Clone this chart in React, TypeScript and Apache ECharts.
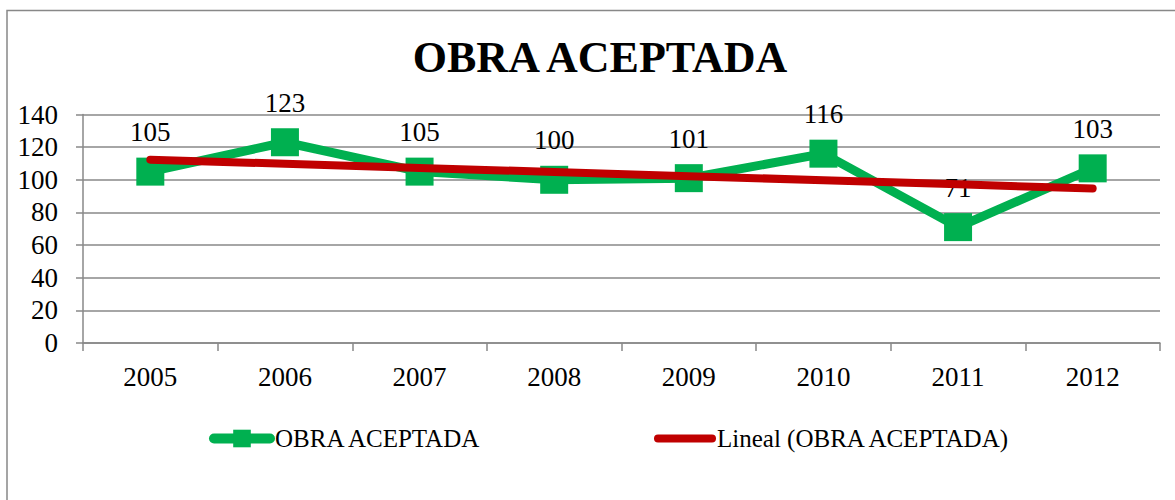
import React, { useEffect, useRef } from "react";
import * as echarts from "echarts";

const categories = ["2005", "2006", "2007", "2008", "2009", "2010", "2011", "2012"];
const obraValues = [105, 123, 105, 100, 101, 116, 71, 107];
const obraLabels = ["105", "123", "105", "100", "101", "116", "71", "103"];
const yTicks = [0, 20, 40, 60, 80, 100, 120, 140];

const SERIES_NAME = "OBRA ACEPTADA";
const TREND_NAME = "Lineal (OBRA ACEPTADA)";
const FONT = "'Liberation Serif', 'DejaVu Serif', serif";

function linearTrend(values: number[]): number[] {
  const n = values.length;
  const xs = values.map((_, i) => i + 1);
  const mx = xs.reduce((a, b) => a + b, 0) / n;
  const my = values.reduce((a, b) => a + b, 0) / n;
  let sxy = 0;
  let sxx = 0;
  for (let i = 0; i < n; i++) {
    sxy += (xs[i] - mx) * (values[i] - my);
    sxx += (xs[i] - mx) * (xs[i] - mx);
  }
  const slope = sxy / sxx;
  return xs.map((x) => my + slope * (x - mx));
}

export default function App() {
  const ref = useRef<HTMLDivElement>(null);
  useEffect(() => {
    if (!ref.current) return;
    const chart = echarts.init(ref.current, null, { renderer: "svg" });
    const trend = linearTrend(obraValues);
    chart.setOption({
      animation: false,
      backgroundColor: "#ffffff",
      title: {
        text: "OBRA ACEPTADA",
        left: 595,
        textAlign: "center",
        top: 30,
        textStyle: { fontFamily: FONT, fontWeight: "bold", fontSize: 44, color: "#000" },
      },
      graphic: [
        {
          type: "rect",
          shape: { x: 7, y: 10.5, width: 1176, height: 600 },
          style: { fill: "none", stroke: "#888", lineWidth: 1.5 },
          silent: true,
          z: -1,
        },
      ],
      grid: { left: 83, right: 15, top: 114.5, bottom: 157, containLabel: false },
      legend: [
        {
          left: 209,
          top: 426,
          padding: 0,
          itemWidth: 56,
          itemHeight: 22,
          textStyle: { fontFamily: FONT, fontSize: 25, color: "#000" },
          data: [
            {
              name: SERIES_NAME,
              lineStyle: { width: 10, color: "#00B050", cap: "round" },
              itemStyle: { color: "#00B050" },
            },
          ],
        },
        {
          left: 654,
          top: 426,
          padding: 0,
          itemWidth: 54,
          itemHeight: 22,
          textStyle: { fontFamily: FONT, fontSize: 25, color: "#000" },
          data: [
            {
              name: TREND_NAME,
              lineStyle: { width: 8, color: "#C00000", cap: "round" },
              itemStyle: { opacity: 0 },
            },
          ],
        },
      ],
      xAxis: {
        type: "category",
        data: categories,
        boundaryGap: true,
        axisLine: { lineStyle: { color: "#888", width: 1.5 } },
        axisTick: { show: true, length: 8, lineStyle: { color: "#888", width: 1.5 } },
        axisLabel: { fontFamily: FONT, fontSize: 27, color: "#000", margin: 20 },
        splitLine: { show: false },
      },
      yAxis: {
        type: "value",
        min: yTicks[0],
        max: yTicks[yTicks.length - 1],
        interval: 20,
        axisLine: { show: true, lineStyle: { color: "#888", width: 1.5 } },
        axisTick: { show: true, length: 7, lineStyle: { color: "#888", width: 1.5 } },
        axisLabel: { fontFamily: FONT, fontSize: 27, color: "#000", margin: 25 },
        splitLine: { show: true, lineStyle: { color: "#888", width: 1.5 } },
      },
      series: [
        {
          name: SERIES_NAME,
          type: "line",
          data: obraValues,
          symbol: "rect",
          symbolSize: 28,
          lineStyle: { width: 9, color: "#00B050" },
          itemStyle: { color: "#00B050" },
          label: {
            show: true,
            position: "top",
            distance: 12,
            fontFamily: FONT,
            fontSize: 27,
            color: "#000",
            formatter: (p: any) => obraLabels[p.dataIndex],
          },
          z: 2,
        },
        {
          name: TREND_NAME,
          type: "line",
          data: trend.map((v) => Math.round(v * 100) / 100),
          symbol: "none",
          lineStyle: { width: 8, color: "#C00000", cap: "round" },
          itemStyle: { color: "#C00000" },
          z: 3,
        },
      ],
    });
    return () => chart.dispose();
  }, []);
  return (
    <div
      ref={ref}
      style={{ position: "fixed", left: 0, top: 0, width: 1175, height: 500 }}
    />
  );
}
